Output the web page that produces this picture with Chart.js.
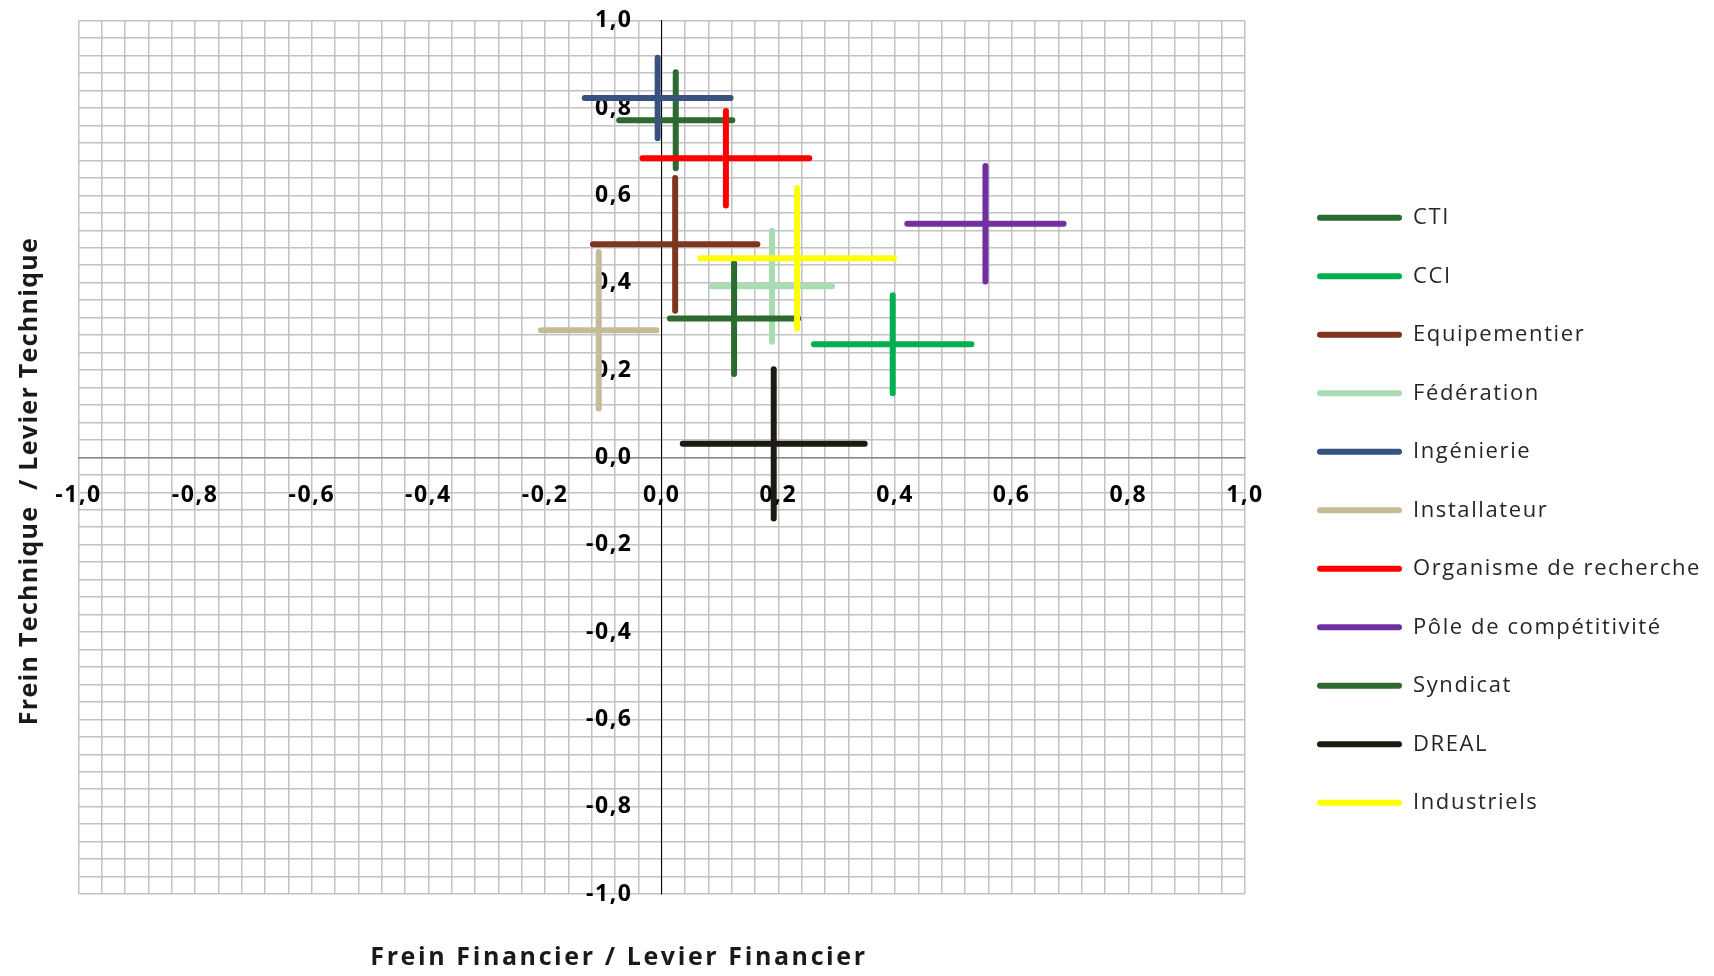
<!DOCTYPE html>
<html><head><meta charset="utf-8">
<script src="https://cdn.jsdelivr.net/npm/chart.js@4.4.1/dist/chart.umd.min.js"></script>
<style>html,body{margin:0;padding:0;background:#fff;} #wrap{width:1714px;height:976px;position:relative;}</style>
</head><body><div id="wrap"><canvas id="c"></canvas></div>
<script>
// ---- data ----
const categories = ['CTI','CCI','Equipementier','Fédération','Ingénierie','Installateur','Organisme de recherche','Pôle de compétitivité','Syndicat','DREAL','Industriels'];
const seriesColors = ['#2c6a31','#00b050','#7f3420','#a8dcb2','#37527e','#c4bc96','#ff0000','#7030a0','#2c6a31','#1d1b11','#ffff00'];
const financierX   = [0.024, 0.396, 0.023, 0.189, -0.007, -0.108, 0.110, 0.555, 0.124, 0.192, 0.232];
const techniqueY   = [0.772, 0.259, 0.488, 0.392, 0.823, 0.291, 0.685, 0.535, 0.318, 0.031, 0.456];
const financierErr = [0.097, 0.135, 0.141, 0.103, 0.125, 0.099, 0.143, 0.134, 0.110, 0.156, 0.166];
const techniqueErr = [0.110, 0.112, 0.152, 0.127, 0.092, 0.179, 0.108, 0.132, 0.127, 0.171, 0.161];
const tickValues = [-1,-0.8,-0.6,-0.4,-0.2,0,0.2,0.4,0.6,0.8,1];
const tickLabels = ['-1,0','-0,8','-0,6','-0,4','-0,2','0,0','0,2','0,4','0,6','0,8','1,0'];
const xTitle = 'Frein Financier / Levier Financier';
const yTitle = 'Frein Technique  / Levier Technique';

function tickLabel(v){
  for (let i=0;i<tickValues.length;i++){ if (Math.abs(v-tickValues[i])<1e-6) return tickLabels[i]; }
  return '';
}

const N = categories.length;
const datasets = categories.map((name,i)=>({
  label: name,
  data: [
    {x: financierX[i]-financierErr[i], y: techniqueY[i]},
    {x: financierX[i]+financierErr[i], y: techniqueY[i]},
    {x: financierX[i], y: null},
    {x: financierX[i], y: techniqueY[i]-techniqueErr[i]},
    {x: financierX[i], y: techniqueY[i]+techniqueErr[i]}
  ],
  borderColor: seriesColors[i],
  backgroundColor: seriesColors[i],
  borderWidth: 6,
  borderCapStyle: 'round',
  showLine: true,
  spanGaps: false,
  pointRadius: 0,
  pointHoverRadius: 0,
  order: N - i
}));

const gridColor = '#c2c2c2';
const TEXT_SPACING = '1.6px';
const noPad = (s)=>{ s.paddingTop = 0; s.paddingBottom = 0; s.paddingLeft = 0; s.paddingRight = 0; };

const titlesPlugin = {
  id: 'axisTitles',
  beforeLayout(chart){ chart.ctx.letterSpacing = TEXT_SPACING; },
  afterLayout(chart){
    const lg = chart.legend;
    if (lg){
      const dx = 35.5, dy = 53;
      lg.left += dx; lg.top += dy; lg.bottom += dy;
      lg.right = chart.width; lg.width = lg.right - lg.left;
    }
  },
  beforeDraw(chart){ chart.ctx.letterSpacing = TEXT_SPACING; },
  afterDraw(chart){
    const ctx = chart.ctx;
    ctx.save();
    ctx.fillStyle = '#1a1a1a';
    ctx.font = 'bold 25px "Open Sans"';
    ctx.textAlign = 'center';
    ctx.textBaseline = 'middle';
    ctx.letterSpacing = '2.6px';
    ctx.fillText(xTitle, 619, 958);
    ctx.letterSpacing = '1.3px';
    ctx.translate(30, 481);
    ctx.rotate(-Math.PI/2);
    ctx.fillText(yTitle, 0, 0);
    ctx.restore();
  }
};

const tickFont = { family: 'Open Sans', weight: 'bold', size: 23 };

new Chart(document.getElementById('c'), {
  type: 'scatter',
  data: { datasets },
  plugins: [titlesPlugin],
  options: {
    responsive: true,
    maintainAspectRatio: false,
    animation: false,
    layout: { padding: { left: 78.5, top: 20.7, bottom: 82, right: 235.7 } },
    scales: {
      x: {
        type: 'linear', min: -1, max: 1, position: { y: 0 },
        afterFit: noPad,
        ticks: { stepSize: 0.04, maxTicksLimit: 100, autoSkip: false, maxRotation: 0, padding: 24,
          color: '#000', font: tickFont, callback: tickLabel },
        grid: { color: gridColor, lineWidth: 1.5, drawTicks: false },
        border: { color: '#888888', width: 1.5 }
      },
      y: {
        type: 'linear', min: -1, max: 1, position: { x: 0 },
        afterFit: noPad,
        ticks: { stepSize: 0.04, maxTicksLimit: 100, autoSkip: false, display: false },
        grid: { color: gridColor, lineWidth: 1.5, drawTicks: false },
        border: { color: '#000000', width: 1 }
      },
      yLabels: {
        axis: 'y', type: 'linear', min: -1, max: 1, position: { x: -0.05 },
        afterFit: noPad,
        ticks: { stepSize: 0.2, autoSkip: false, padding: 0, color: '#000', font: tickFont, callback: tickLabel },
        grid: { display: false, drawTicks: false },
        border: { display: false }
      }
    },
    plugins: {
      tooltip: { enabled: false },
      legend: {
        position: 'right',
        fullSize: false,
        labels: {
          boxWidth: 85, boxHeight: 6, padding: 36.5,
          color: '#262626',
          font: { family: 'Open Sans', size: 22 },
          sort: (a,b)=>a.datasetIndex-b.datasetIndex,
          generateLabels(chart){
            const items = Chart.defaults.plugins.legend.labels.generateLabels(chart);
            return items.map(it=>Object.assign(it,{lineWidth:0, borderRadius:3, fillStyle: seriesColors[it.datasetIndex]}));
          }
        }
      }
    }
  }
});
</script></body></html>
